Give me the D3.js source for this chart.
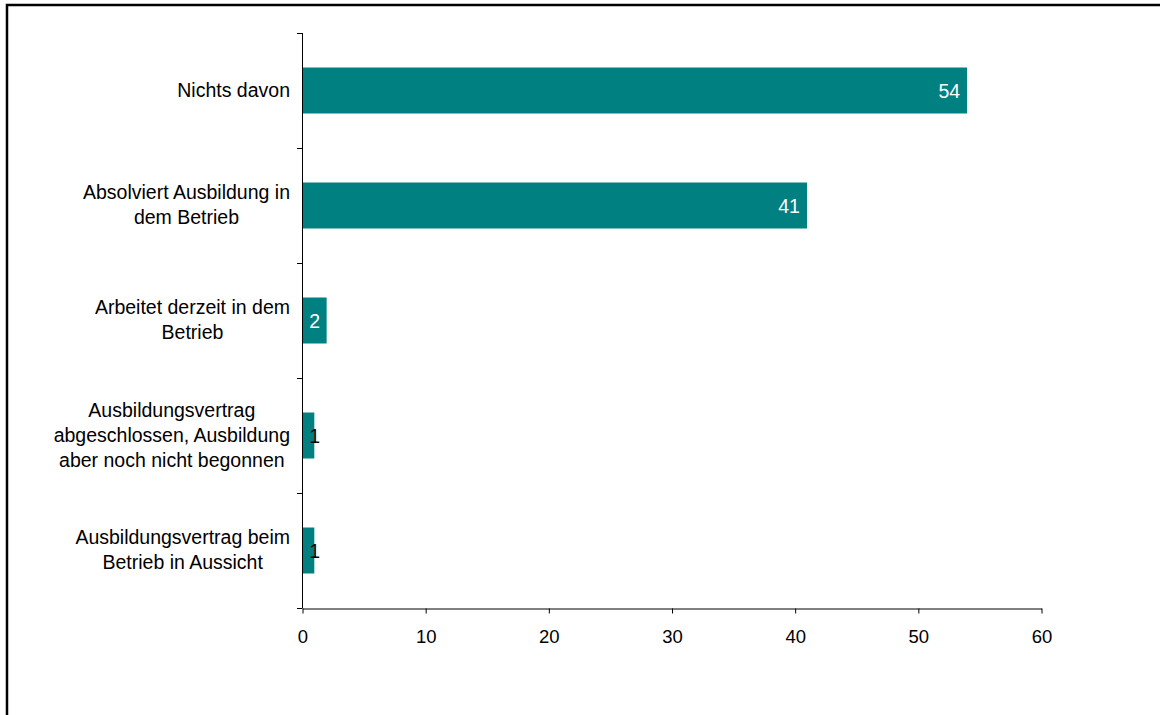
<!DOCTYPE html>
<html>
<head>
<meta charset="utf-8">
<script src="https://cdn.jsdelivr.net/npm/d3@7"></script>
<style>
  html, body { margin: 0; padding: 0; background: #fff; }
  svg { display: block; font-family: "Liberation Sans", Arial, sans-serif; }
</style>
</head>
<body>
<svg id="chart" width="1160" height="715"></svg>
<script>
const categories = [
  "Nichts davon",
  "Absolviert Ausbildung in\ndem Betrieb",
  "Arbeitet derzeit in dem\nBetrieb",
  "Ausbildungsvertrag\nabgeschlossen, Ausbildung\naber noch nicht begonnen",
  "Ausbildungsvertrag beim\nBetrieb in Aussicht"
];
const values = [54, 41, 2, 1, 1];
const xTicks = [0, 10, 20, 30, 40, 50, 60];

const svg = d3.select("#chart");

// outer frame
svg.append("rect")
  .attr("x", 7).attr("y", 5)
  .attr("width", 1170).attr("height", 730)
  .attr("fill", "none").attr("stroke", "#000").attr("stroke-width", 2.5);

const x = d3.scaleLinear().domain([0, 60]).range([302, 1041]);
const y = d3.scaleBand().domain(categories).range([33, 608])
  .paddingInner(0.6).paddingOuter(0.3);

const barColor = "#008080";

// bars
svg.append("g").selectAll("rect").data(categories).join("rect")
  .attr("x", x(0))
  .attr("y", d => y(d))
  .attr("width", (d, i) => x(values[i]) - x(0))
  .attr("height", y.bandwidth())
  .attr("fill", barColor);

// y axis line + boundary ticks
const yAxis = svg.append("g").attr("stroke", "#000").attr("stroke-width", 1);
yAxis.append("line")
  .attr("x1", x(0) + 0.5).attr("x2", x(0) + 0.5)
  .attr("y1", y.range()[0]).attr("y2", y.range()[1]);
d3.range(categories.length + 1).forEach(i => {
  const yy = Math.round(y.range()[0] + i * y.step()) + 0.5;
  yAxis.append("line")
    .attr("x1", x(0) - 5).attr("x2", x(0) + 0.5)
    .attr("y1", yy).attr("y2", yy);
});

// x axis
const xAxisG = svg.append("g")
  .attr("transform", `translate(0.5,${y.range()[1] + 0.5})`)
  .call(d3.axisBottom(x).tickValues(xTicks).tickSize(5).tickPadding(16).tickSizeOuter(0));
xAxisG.select(".domain").attr("stroke", "#000");
xAxisG.selectAll(".tick line").attr("stroke", "#000");
xAxisG.selectAll(".tick text")
  .attr("font-family", "'Liberation Sans', Arial, sans-serif")
  .attr("font-size", 18.5).attr("fill", "#000");

// category labels
const fontSize = 19.5;
const lineH = 25;
const labelRight = 290;
const labels = svg.append("g")
  .attr("font-size", fontSize).attr("fill", "#000");
categories.forEach(c => {
  const lines = c.split("\n");
  const t = labels.append("text").attr("text-anchor", "middle");
  const cy = y(c) + y.bandwidth() / 2;
  const spans = lines.map((ln, k) =>
    t.append("tspan")
      .attr("y", cy - (lines.length - 1) * lineH / 2 + k * lineH + 6)
      .text(ln));
  const maxW = d3.max(spans, s => s.node().getComputedTextLength());
  spans.forEach(s => s.attr("x", labelRight - maxW / 2));
});

// value labels
svg.append("g").attr("font-size", fontSize).selectAll("text").data(categories).join("text")
  .attr("text-anchor", "end")
  .attr("x", (d, i) => Math.max(x(values[i]) - 7, x(0) + 18))
  .attr("y", d => y(d) + y.bandwidth() / 2 + 7)
  .attr("fill", (d, i) => (x(values[i]) - x(0) > 20 ? "#fff" : "#000"))
  .text((d, i) => values[i]);
</script>
</body>
</html>
